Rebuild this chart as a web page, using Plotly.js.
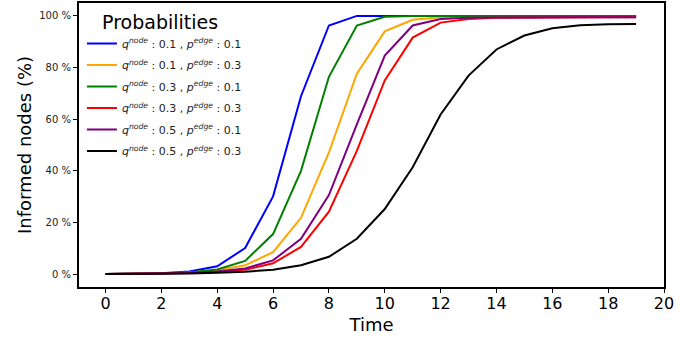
<!DOCTYPE html>
<html>
<head>
<meta charset="utf-8">
<script src="https://cdn.plot.ly/plotly-3.0.1.min.js"></script>
<style>html,body{margin:0;padding:0;background:#fff;}#chart{width:690px;height:339px;}</style>
</head>
<body>
<div id="chart"></div>
<script>
const time = [0,1,2,3,4,5,6,7,8,9,10,11,12,13,14,15,16,17,18,19];
const q01_p01 = [0,0.1,0.3,1.0,3.0,10.1,30.1,68.9,96.3,100,100,100,100,100,100,100,100,100,100,100];
const q01_p03 = [0,0.05,0.2,0.6,1.5,3.4,8.5,21.8,47.1,77.6,94.0,98.5,99.5,99.7,99.8,99.8,99.8,99.8,99.8,99.8];
const q03_p01 = [0,0.05,0.2,0.6,1.8,5.1,15.5,40.0,76.4,96.3,99.7,100,100,100,100,100,100,100,100,100];
const q03_p03 = [0,0.05,0.1,0.4,0.9,1.7,4.2,10.5,24.2,47.7,75.0,91.6,97.4,98.8,99.3,99.4,99.5,99.5,99.5,99.5];
const q05_p01 = [0,0.05,0.1,0.4,1.0,2.2,5.3,13.7,30.6,58.0,84.6,96.3,98.8,99.3,99.4,99.5,99.5,99.5,99.5,99.5];
const q05_p03 = [0,0.05,0.1,0.2,0.5,0.9,1.7,3.4,6.7,13.7,25.2,41.4,61.8,76.9,87.0,92.4,95.2,96.4,96.8,96.9];
const seriesNames = [
  "<i>q<sup>node</sup></i> : 0.1 , <i>p<sup>edge</sup></i> : 0.1",
  "<i>q<sup>node</sup></i> : 0.1 , <i>p<sup>edge</sup></i> : 0.3",
  "<i>q<sup>node</sup></i> : 0.3 , <i>p<sup>edge</sup></i> : 0.1",
  "<i>q<sup>node</sup></i> : 0.3 , <i>p<sup>edge</sup></i> : 0.3",
  "<i>q<sup>node</sup></i> : 0.5 , <i>p<sup>edge</sup></i> : 0.1",
  "<i>q<sup>node</sup></i> : 0.5 , <i>p<sup>edge</sup></i> : 0.3"
];
const seriesValues = [q01_p01, q01_p03, q03_p01, q03_p03, q05_p01, q05_p03];
const colors = ["#0000ff", "#ffa500", "#008000", "#ff0000", "#800080", "#000000"];
const xTicks = [0,2,4,6,8,10,12,14,16,18,20];
const yTicks = [0,20,40,60,80,100];

const traces = seriesValues.map((v, i) => ({
  x: time, y: v, type: "scatter", mode: "lines", name: seriesNames[i],
  legendgroup: "g" + i,
  line: {color: colors[i], width: 2}
}));

const font = "DejaVu Sans, sans-serif";
const layout = {
  width: 690, height: 339,
  margin: {l: 79, r: 26, t: 3, b: 52},
  paper_bgcolor: "#fff", plot_bgcolor: "#fff",
  font: {family: font, color: "#000"},
  showlegend: true,
  legend: {
    x: 0.005, y: 0.995, xanchor: "left", yanchor: "top",
    bgcolor: "rgba(255,255,255,0)", borderwidth: 0,
    font: {family: font, size: 11, color: "#222"},
    title: {text: "&nbsp;&nbsp;&nbsp;Probabilities", font: {family: font, size: 19, color: "#000"}},
    tracegroupgap: 2.5
  },
  xaxis: {
    range: [-0.95, 20], tickvals: xTicks, ticktext: xTicks.map(String),
    ticks: "outside", ticklen: 4, tickwidth: 1, tickcolor: "#000",
    ticklabelstandoff: -3,
    showgrid: false, zeroline: false,
    showline: true, mirror: true, linecolor: "#000", linewidth: 2,
    tickfont: {family: font, size: 16, color: "#000"},
    title: {text: "Time", font: {family: font, size: 18, color: "#000"}, standoff: 6}
  },
  yaxis: {
    range: [-5, 105], tickvals: yTicks, ticktext: yTicks.map(v => v + " %"),
    ticks: "outside", ticklen: 4, tickwidth: 1, tickcolor: "#000",
    showgrid: false, zeroline: false,
    showline: true, mirror: true, linecolor: "#000", linewidth: 2,
    tickfont: {family: font, size: 10, color: "#222"},
    title: {text: "Informed nodes (%)", font: {family: font, size: 18, color: "#000"}, standoff: 3}
  }
};
Plotly.newPlot("chart", traces, layout, {staticPlot: true, displayModeBar: false});
</script>
</body>
</html>
